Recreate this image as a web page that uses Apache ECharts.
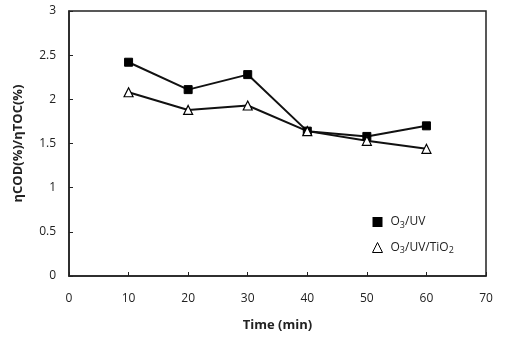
<!DOCTYPE html>
<html>
<head>
<meta charset="utf-8">
<script src="https://cdn.jsdelivr.net/npm/echarts@6/dist/echarts.min.js"></script>
<style>
  html, body { margin: 0; padding: 0; background: #fff; }
  #chart { width: 508px; height: 338px; }
</style>
</head>
<body>
<div id="chart"></div>
<script>
// Reaction time (min)
const times = [10, 20, 30, 40, 50, 60];
// ηCOD(%)/ηTOC(%) ratios
const o3uv = [2.42, 2.11, 2.28, 1.64, 1.58, 1.70];
const o3uvTiO2 = [2.08, 1.88, 1.93, 1.64, 1.53, 1.44];
const xTicks = [0, 10, 20, 30, 40, 50, 60, 70];
const yTicks = [0, 0.5, 1, 1.5, 2, 2.5, 3];

const FONT = 'Open Sans';
const chart = echarts.init(document.getElementById('chart'));

const pairs = ys => times.map((t, i) => [t, ys[i]]);

chart.setOption({
  animation: false,
  backgroundColor: '#fff',
  grid: { left: 69, right: 22, top: 11, bottom: 62, show: true, borderColor: '#222', borderWidth: 1.5, backgroundColor: 'transparent' },
  xAxis: {
    type: 'value', min: xTicks[0], max: xTicks[xTicks.length - 1], interval: 10,
    axisLine: { lineStyle: { color: '#222', width: 1.5 } },
    axisTick: { show: true, inside: true, length: 4, lineStyle: { color: '#222' } },
    splitLine: { show: false },
    axisLabel: { color: '#222', fontFamily: FONT, fontSize: 12, margin: 17 },
    name: 'Time (min)', nameLocation: 'middle', nameGap: 43,
    nameTextStyle: { color: '#222', fontFamily: FONT, fontSize: 13, fontWeight: 'bold' }
  },
  yAxis: {
    type: 'value', min: yTicks[0], max: yTicks[yTicks.length - 1], interval: 0.5,
    axisLine: { show: true, lineStyle: { color: '#222', width: 1.5 } },
    axisTick: { show: true, inside: true, length: 4, lineStyle: { color: '#222' } },
    splitLine: { show: false },
    axisLabel: { color: '#222', fontFamily: FONT, fontSize: 12, margin: 13 },
    name: 'ηCOD(%)/ηTOC(%)', nameLocation: 'middle', nameGap: 44, nameRotate: 90,
    nameTextStyle: { color: '#222', fontFamily: FONT, fontSize: 13, fontWeight: 'bold' }
  },
  legend: {
    orient: 'vertical', left: 367, top: 211, itemGap: 12, itemWidth: 10, itemHeight: 10,
    data: [
      { name: 'O3/UV', icon: 'rect', itemStyle: { color: '#000', borderColor: '#000' } },
      { name: 'O3/UV/TiO2', icon: 'triangle', itemStyle: { color: '#fff', borderColor: '#000', borderWidth: 1 } }
    ],
    formatter: n => n.replace(/(\d)/g, '{sub|$1}'),
    textStyle: {
      color: '#222', fontFamily: FONT, fontSize: 12, padding: [0, 0, 0, 3],
      rich: { sub: { fontSize: 9, fontFamily: FONT, color: '#222', verticalAlign: 'bottom', padding: [6, 0, 0, 0] } }
    }
  },
  series: [
    {
      name: 'O3/UV', type: 'line', data: pairs(o3uv),
      symbol: 'rect', symbolSize: 8,
      lineStyle: { color: '#111', width: 2 },
      itemStyle: { color: '#000', borderColor: '#000' }
    },
    {
      name: 'O3/UV/TiO2', type: 'line', data: pairs(o3uvTiO2),
      symbol: 'triangle', symbolSize: 9,
      lineStyle: { color: '#111', width: 2 },
      itemStyle: { color: '#fff', borderColor: '#000', borderWidth: 1.2 }
    }
  ]
});
</script>
</body>
</html>
